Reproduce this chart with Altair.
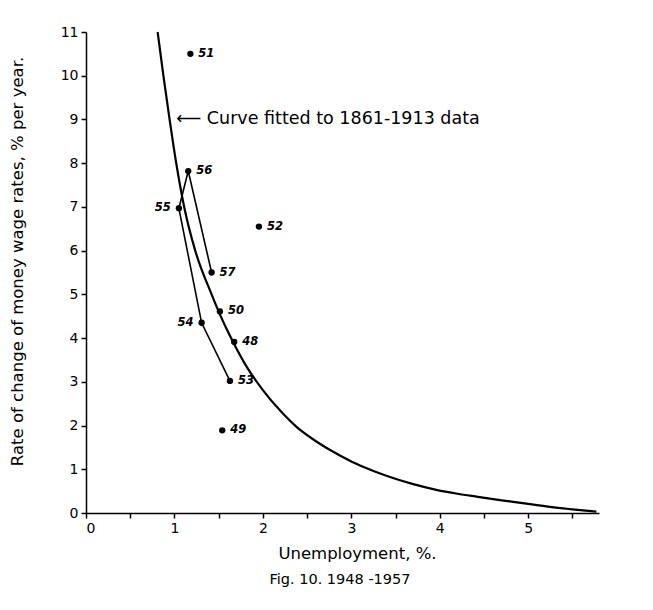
import altair as alt
import pandas as pd

# Observed points 1948-1957
years = ["48", "49", "50", "51", "52", "53", "54", "55", "56", "57"]
unemp = [1.676, 1.54, 1.514, 1.18, 1.955, 1.627, 1.307, 1.05, 1.156, 1.42]
wage = [3.91, 1.89, 4.61, 10.5, 6.55, 3.02, 4.35, 6.97, 7.82, 5.50]
label_side = ["r", "r", "r", "r", "r", "r", "l", "l", "r", "r"]

# Connected sequence 1953-1957
path_years = ["53", "54", "55", "56", "57"]

# Curve fitted to 1861-1913 data
curve_x = [0.81, 0.875, 0.945, 1.02, 1.11, 1.235, 1.42, 1.51, 1.64, 1.80, 2.0,
           2.2, 2.38, 2.55, 2.76, 3.0, 3.25, 3.47, 3.7, 3.96, 4.2, 4.43, 4.7,
           5.0, 5.25, 5.47, 5.77]
curve_y = [11.0, 10.0, 9.0, 8.0, 7.0, 6.0, 5.0, 4.56, 4.0, 3.4, 2.81,
           2.33, 1.97, 1.71, 1.44, 1.18, 0.96, 0.80, 0.66, 0.53, 0.44, 0.37, 0.29,
           0.21, 0.14, 0.09, 0.03]

x_ticks = [0, 0.5, 1, 1.5, 2, 2.5, 3, 3.5, 4, 4.5, 5, 5.5]
y_ticks = list(range(0, 12))

pts = pd.DataFrame({"year": years, "u": unemp, "w": wage, "side": label_side})
path = pts[pts["year"].isin(path_years)].copy()
path["order"] = path["year"].astype(int)
curve = pd.DataFrame({"u": curve_x, "w": curve_y})
note = pd.DataFrame({"u": [1.02], "w": [9.0], "t": ["⟵ Curve fitted to 1861-1913 data"]})

FONT = "DejaVu Sans"
W, H = 513, 481

xs = alt.Scale(domain=[0, 5.8], nice=False)
ys = alt.Scale(domain=[0, 11], nice=False)

xaxis = alt.Axis(values=x_ticks,
                 labelExpr="datum.value % 1 == 0 ? format(datum.value, 'd') : ''",
                 title="Unemployment,  %.", grid=False, domainColor="black",
                 tickColor="black", tickSize=5, labelFont=FONT, labelFontSize=14,
                 labelColor="black", labelPadding=3, titleFont=FONT, titleFontSize=16.5,
                 titleFontWeight="normal", titleColor="black", titleX=271, titleY=40,
                 titleBaseline="middle", domainWidth=1.5, tickWidth=1.5)
yaxis = alt.Axis(values=y_ticks, title="Rate of change of money wage rates, % per year.",
                 grid=False, domainColor="black", tickColor="black", tickSize=5,
                 labelFont=FONT, labelFontSize=14, labelColor="black", labelPadding=3,
                 titleFont=FONT, titleFontSize=16.5, titleFontWeight="normal",
                 titleColor="black", titleX=-69, titleY=229, titleBaseline="middle",
                 domainWidth=1.5, tickWidth=1.5)

curve_layer = alt.Chart(curve).mark_line(color="black", strokeWidth=2.2,
                                         interpolate="monotone").encode(
    x=alt.X("u:Q", scale=xs, axis=xaxis),
    y=alt.Y("w:Q", scale=ys, axis=yaxis),
    order="u:Q")

path_layer = alt.Chart(path).mark_line(color="black", strokeWidth=1.6).encode(
    x=alt.X("u:Q", scale=xs), y=alt.Y("w:Q", scale=ys), order="order:Q")

point_layer = alt.Chart(pts).mark_circle(color="black", opacity=1, size=40).encode(
    x=alt.X("u:Q", scale=xs), y=alt.Y("w:Q", scale=ys))

lab_r = alt.Chart(pts[pts["side"] == "r"]).mark_text(
    align="left", dx=8, font=FONT, fontSize=11.5, fontStyle="italic",
    fontWeight="bold", color="black").encode(
    x=alt.X("u:Q", scale=xs), y=alt.Y("w:Q", scale=ys), text="year:N")

lab_l = alt.Chart(pts[pts["side"] == "l"]).mark_text(
    align="right", dx=-8, font=FONT, fontSize=11.5, fontStyle="italic",
    fontWeight="bold", color="black").encode(
    x=alt.X("u:Q", scale=xs), y=alt.Y("w:Q", scale=ys), text="year:N")

note_layer = alt.Chart(note).mark_text(
    align="left", baseline="middle", font=FONT, fontSize=17.5, color="black").encode(
    x=alt.X("u:Q", scale=xs), y=alt.Y("w:Q", scale=ys), text="t:N")

fig_title = alt.Chart(note).mark_text(
    align="center", baseline="middle", font=FONT, fontSize=14.5, color="black").encode(
    x=alt.value(254), y=alt.value(548), text=alt.value("Fig. 10.  1948 -1957"))

chart = alt.layer(curve_layer, path_layer, point_layer, lab_r, lab_l,
                  note_layer, fig_title).properties(
    width=W, height=H,
    autosize=alt.AutoSizeParams(type="none"),
    padding={"left": 86, "top": 32, "right": 54, "bottom": 97},
    background="white",
).configure_view(stroke=None)

chart.save("out.html", embed_options={"renderer": "svg", "actions": False})
